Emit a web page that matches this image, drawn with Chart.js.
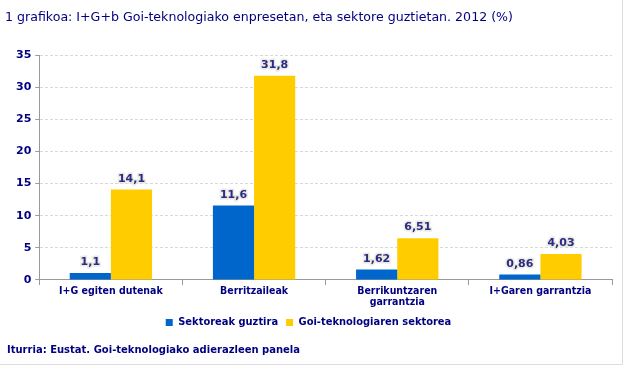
<!DOCTYPE html>
<html>
<head>
<meta charset="utf-8">
<script src="https://cdn.jsdelivr.net/npm/chart.js@4"></script>
<style>
  html, body { margin: 0; padding: 0; background: #fff; }
  #wrap { position: relative; width: 625px; height: 366px; }
</style>
</head>
<body>
<div id="wrap"><canvas id="grafikoa"></canvas></div>
<script>
// Datuak
const kategoriak = ["I+G egiten dutenak", "Berritzaileak", ["Berrikuntzaren", "garrantzia"], "I+Garen garrantzia"];
const sektoreakGuztira = [1.1, 11.6, 1.62, 0.86];
const goiTeknologia = [14.1, 31.8, 6.51, 4.03];
const etiketakGuztira = ["1,1", "11,6", "1,62", "0,86"];
const etiketakGoiTek = ["14,1", "31,8", "6,51", "4,03"];
const seriesIzenak = ["Sektoreak guztira", "Goi-teknologiaren sektorea"];

const urdina = "#0066CC";
const horia = "#FFCC00";
const lacio = "#000080";

// Balioak barren gainean idazteko plugina
const balioEtiketak = {
  id: "balioEtiketak",
  afterDatasetsDraw(chart) {
    const ctx = chart.ctx;
    const testuak = [etiketakGuztira, etiketakGoiTek];
    ctx.save();
    ctx.font = "bold 11px 'DejaVu Sans'";
    ctx.textAlign = "center";
    ctx.textBaseline = "bottom";
    chart.data.datasets.forEach((ds, i) => {
      chart.getDatasetMeta(i).data.forEach((bar, j) => {
        const t = testuak[i][j];
        ctx.lineWidth = 3;
        ctx.strokeStyle = "rgba(232,232,220,0.9)";
        ctx.strokeText(t, bar.x, bar.y - 5);
        ctx.fillStyle = "#2a2a8a";
        ctx.fillText(t, bar.x, bar.y - 5);
      });
    });
    ctx.restore();
  },
};

// Iturria eta ertzak
const iturria = {
  id: "iturria",
  afterDraw(chart) {
    const ctx = chart.ctx;
    ctx.save();
    ctx.font = "bold 10px 'DejaVu Sans'";
    ctx.fillStyle = lacio;
    ctx.textAlign = "left";
    ctx.textBaseline = "middle";
    ctx.fillText("Iturria: Eustat. Goi-teknologiako adierazleen panela", 7, 350);
    ctx.strokeStyle = "#dddddd";
    ctx.lineWidth = 1;
    ctx.beginPath();
    ctx.moveTo(0, 364.5);
    ctx.lineTo(622.5, 364.5);
    ctx.lineTo(622.5, 0);
    ctx.stroke();
    ctx.restore();
  },
};

new Chart(document.getElementById("grafikoa"), {
  type: "bar",
  data: {
    labels: kategoriak,
    datasets: [
      { label: seriesIzenak[0], data: sektoreakGuztira, backgroundColor: urdina, borderWidth: 0 },
      { label: seriesIzenak[1], data: goiTeknologia, backgroundColor: horia, borderWidth: 0 },
    ],
  },
  options: {
    responsive: true,
    maintainAspectRatio: false,
    animation: false,
    devicePixelRatio: 1,
    datasets: { bar: { categoryPercentage: 0.575, barPercentage: 1 } },
    layout: { padding: { left: 5, right: 13, top: 0, bottom: 28 } },
    plugins: {
      title: {
        display: true,
        text: "1 grafikoa: I+G+b Goi-teknologiako enpresetan, eta sektore guztietan. 2012 (%)",
        align: "start",
        color: lacio,
        font: { family: "'DejaVu Sans'", size: 12.6, weight: "normal" },
        padding: { top: 10, bottom: 30 },
      },
      legend: {
        position: "bottom",
        labels: {
          color: lacio,
          font: { family: "'DejaVu Sans Condensed'", size: 11, weight: "bold" },
          boxWidth: 7,
          boxHeight: 7,
          padding: 8,
        },
      },
      tooltip: { enabled: false },
    },
    scales: {
      x: {
        grid: { drawOnChartArea: false, drawTicks: true, tickLength: 5, color: "#999" },
        border: { color: "#999" },
        ticks: {
          color: lacio,
          font: { family: "'DejaVu Sans Condensed'", size: 10.5, weight: "bold", lineHeight: 1.05 },
          maxRotation: 0,
          padding: 1,
        },
      },
      y: {
        min: 0,
        max: 35,
        afterFit(scale) { scale.width += 7; },
        ticks: {
          stepSize: 5,
          color: lacio,
          font: { family: "'DejaVu Sans'", size: 11, weight: "bold" },
          padding: 4,
        },
        grid: { color: "#d8d8d8", tickLength: 4, tickColor: "#999" },
        border: { color: "#999", dash: [3, 2] },
      },
    },
  },
  plugins: [balioEtiketak, iturria],
});
</script>
</body>
</html>
